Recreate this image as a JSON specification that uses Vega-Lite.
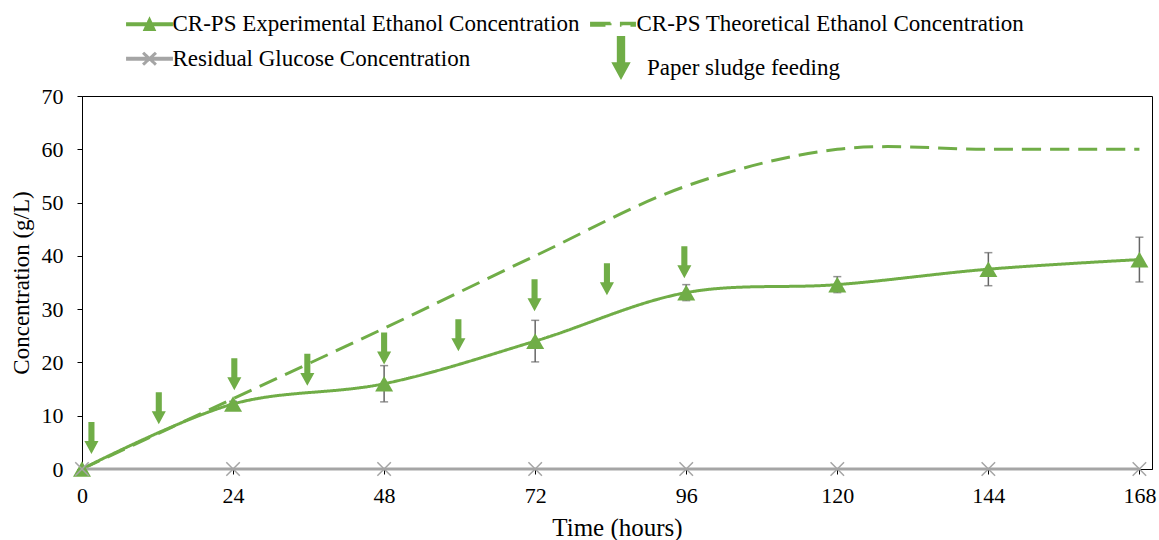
{
  "$schema": "https://vega.github.io/schema/vega-lite/v6.json",
  "autosize": {"type": "none"},
  "width": 1070,
  "height": 373,
  "padding": {"left": 82, "top": 96, "right": 7, "bottom": 71},
  "background": "white",
  "config": {
    "font": "Liberation Serif",
    "view": {"stroke": "black", "strokeWidth": 1},
    "axis": {
      "grid": false,
      "domainColor": "black",
      "tickColor": "black",
      "tickSize": 5,
      "labelColor": "black",
      "labelFont": "Liberation Serif",
      "labelFontSize": 22,
      "titleColor": "black",
      "titleFont": "Liberation Serif",
      "titleFontSize": 23,
      "titleFontWeight": "normal",
      "labelOverlap": false,
      "labelFlush": false
    },
    "legend": {
      "labelFont": "Liberation Serif",
      "labelFontSize": 23,
      "labelColor": "black",
      "labelLimit": 1000,
      "padding": 0
    }
  },
  "datasets": {
    "concentration": [
      {"series": "CR-PS Experimental Ethanol Concentration", "time": 0, "conc": 0, "sd": 0},
      {"series": "CR-PS Experimental Ethanol Concentration", "time": 24, "conc": 12.2, "sd": 0.5},
      {"series": "CR-PS Experimental Ethanol Concentration", "time": 48, "conc": 16.0, "sd": 3.4},
      {"series": "CR-PS Experimental Ethanol Concentration", "time": 72, "conc": 24.0, "sd": 3.9},
      {"series": "CR-PS Experimental Ethanol Concentration", "time": 96, "conc": 33.1, "sd": 1.5},
      {"series": "CR-PS Experimental Ethanol Concentration", "time": 120, "conc": 34.6, "sd": 1.5},
      {"series": "CR-PS Experimental Ethanol Concentration", "time": 144, "conc": 37.5, "sd": 3.1},
      {"series": "CR-PS Experimental Ethanol Concentration", "time": 168, "conc": 39.3, "sd": 4.2},
      {"series": "CR-PS Theoretical Ethanol Concentration", "time": 0, "conc": 0},
      {"series": "CR-PS Theoretical Ethanol Concentration", "time": 24, "conc": 13.2},
      {"series": "CR-PS Theoretical Ethanol Concentration", "time": 48, "conc": 26.4},
      {"series": "CR-PS Theoretical Ethanol Concentration", "time": 72, "conc": 40.0},
      {"series": "CR-PS Theoretical Ethanol Concentration", "time": 96, "conc": 53.1},
      {"series": "CR-PS Theoretical Ethanol Concentration", "time": 120, "conc": 60.0},
      {"series": "CR-PS Theoretical Ethanol Concentration", "time": 144, "conc": 60.0},
      {"series": "CR-PS Theoretical Ethanol Concentration", "time": 168, "conc": 60.0},
      {"series": "Residual Glucose Concentration", "time": 0, "conc": 0},
      {"series": "Residual Glucose Concentration", "time": 24, "conc": 0},
      {"series": "Residual Glucose Concentration", "time": 48, "conc": 0},
      {"series": "Residual Glucose Concentration", "time": 72, "conc": 0},
      {"series": "Residual Glucose Concentration", "time": 96, "conc": 0},
      {"series": "Residual Glucose Concentration", "time": 120, "conc": 0},
      {"series": "Residual Glucose Concentration", "time": 144, "conc": 0},
      {"series": "Residual Glucose Concentration", "time": 168, "conc": 0}
    ],
    "feeding": [
      {"event": "Paper sludge feeding", "time": 1.5, "conc": 2.8},
      {"event": "Paper sludge feeding", "time": 12.2, "conc": 8.4},
      {"event": "Paper sludge feeding", "time": 24.2, "conc": 14.8},
      {"event": "Paper sludge feeding", "time": 35.8, "conc": 15.6},
      {"event": "Paper sludge feeding", "time": 48.0, "conc": 19.6},
      {"event": "Paper sludge feeding", "time": 59.8, "conc": 22.1},
      {"event": "Paper sludge feeding", "time": 71.9, "conc": 29.6},
      {"event": "Paper sludge feeding", "time": 83.4, "conc": 32.6},
      {"event": "Paper sludge feeding", "time": 95.7, "conc": 35.8}
    ]
  },
  "layer": [
    {
      "data": {"name": "concentration"},
      "mark": {"type": "line", "interpolate": "catmull-rom", "strokeCap": "butt"},
      "encoding": {
        "x": {
          "field": "time", "type": "quantitative", "title": "Time (hours)",
          "scale": {"domain": [0, 170], "nice": false, "zero": false},
          "axis": {
            "values": [0, 24, 48, 72, 96, 120, 144, 168],
            "labelFont": "Liberation Serif", "labelFontSize": 22,
            "titleFont": "Liberation Serif", "titleFontSize": 25,
            "labelPadding": 11, "titlePadding": 9
          }
        },
        "y": {
          "field": "conc", "type": "quantitative", "title": "Concentration (g/L)",
          "scale": {"domain": [0, 70], "nice": false},
          "axis": {
            "values": [0, 10, 20, 30, 40, 50, 60, 70],
            "labelFont": "Liberation Serif", "labelFontSize": 22,
            "titleFont": "Liberation Serif", "titleFontSize": 23,
            "labelPadding": 14, "titlePadding": 8
          }
        },
        "color": {
          "field": "series", "type": "nominal",
          "scale": {
            "domain": ["CR-PS Experimental Ethanol Concentration", "CR-PS Theoretical Ethanol Concentration", "Residual Glucose Concentration"],
            "range": ["#70AD47", "#70AD47", "#A5A5A5"]
          },
          "legend": {
            "title": null,
            "orient": "none",
            "direction": "horizontal",
            "legendX": 49.5,
            "legendY": -89.8,
            "columns": 2,
            "symbolSize": 1089,
            "labelFont": "Liberation Serif",
            "labelFontSize": 23,
            "labelColor": "black",
            "labelLimit": 1000,
            "labelOffset": 5,
            "rowPadding": 4.5,
            "columnPadding": 6,
            "encode": {
              "symbols": {
                "update": {
                  "shape": {"signal": "datum.value === 'CR-PS Experimental Ethanol Concentration' ? 'M-1.33,-0.03L1.33,-0.03L1.33,0.03L-1.33,0.03ZM0,-0.27L0.27,0.32L-0.27,0.32Z' : datum.value === 'CR-PS Theoretical Ethanol Concentration' ? 'M-1.33,-0.06L-0.12,-0.06L-0.12,0.06L-1.33,0.06ZM0.48,-0.06L1.27,-0.06L1.27,0.06L0.48,0.06Z' : 'M-1.33,-0.03L1.33,-0.03L1.33,0.03L-1.33,0.03ZM-0.39,-0.36L0.39,0.36M-0.39,0.36L0.39,-0.36'"},
                  "fill": {"signal": "datum.value === 'Residual Glucose Concentration' ? '#A5A5A5' : '#70AD47'"},
                  "stroke": {"signal": "datum.value === 'Residual Glucose Concentration' ? '#A5A5A5' : '#70AD47'"},
                  "strokeWidth": {"value": 1},
                  "strokeDash": {"value": [1, 0]},
                  "size": {"value": 1089},
                  "opacity": {"value": 1}
                }
              }
            }
          }
        },
        "strokeDash": {
          "field": "series", "type": "nominal", "legend": null,
          "scale": {
            "domain": ["CR-PS Experimental Ethanol Concentration", "CR-PS Theoretical Ethanol Concentration", "Residual Glucose Concentration"],
            "range": [[1, 0], [19, 9], [1, 0]]
          }
        },
        "strokeWidth": {
          "field": "series", "type": "nominal", "legend": null,
          "scale": {
            "domain": ["CR-PS Experimental Ethanol Concentration", "CR-PS Theoretical Ethanol Concentration", "Residual Glucose Concentration"],
            "range": [3, 3, 2.5]
          }
        }
      }
    },
    {
      "data": {"name": "concentration"},
      "transform": [{"filter": "datum.series === 'CR-PS Experimental Ethanol Concentration'"}],
      "mark": {"type": "errorbar", "color": "#666666", "thickness": 1.5, "ticks": {"size": 8, "color": "#666666", "thickness": 1.5}},
      "encoding": {
        "x": {"field": "time", "type": "quantitative", "title": "Time (hours)"},
        "y": {"field": "conc", "type": "quantitative", "title": "Concentration (g/L)"},
        "yError": {"field": "sd"}
      }
    },
    {
      "data": {"name": "concentration"},
      "transform": [{"filter": "datum.series === 'CR-PS Experimental Ethanol Concentration'"}],
      "mark": {"type": "point", "shape": "triangle-up", "filled": true, "color": "#70AD47", "opacity": 1, "size": 324},
      "encoding": {
        "x": {"field": "time", "type": "quantitative", "title": "Time (hours)"},
        "y": {"field": "conc", "type": "quantitative", "title": "Concentration (g/L)"}
      }
    },
    {
      "data": {"name": "concentration"},
      "transform": [{"filter": "datum.series === 'Residual Glucose Concentration'"}],
      "mark": {"type": "point", "shape": "M-1,-1L1,1M-1,1L1,-1", "filled": false, "stroke": "#A5A5A5", "strokeWidth": 1.5, "opacity": 1, "size": 182},
      "encoding": {
        "x": {"field": "time", "type": "quantitative", "title": "Time (hours)"},
        "y": {"field": "conc", "type": "quantitative", "title": "Concentration (g/L)"}
      }
    },
    {
      "data": {"name": "feeding"},
      "mark": {"type": "point", "filled": true, "color": "#70AD47", "opacity": 1, "size": 1024, "strokeWidth": 0},
      "encoding": {
        "x": {"field": "time", "type": "quantitative", "title": "Time (hours)"},
        "y": {"field": "conc", "type": "quantitative", "title": "Concentration (g/L)"},
        "shape": {
          "field": "event", "type": "nominal",
          "scale": {"range": ["M-0.19,-2L0.19,-2L0.19,-0.81L0.44,-0.81L0,0L-0.44,-0.81L-0.19,-0.81Z"]},
          "legend": {
            "title": null,
            "orient": "none",
            "legendX": 516,
            "legendY": -39,
            "symbolSize": 1936,
            "labelFont": "Liberation Serif",
            "labelFontSize": 23,
            "labelColor": "black",
            "labelLimit": 1000,
            "labelOffset": 3,
            "labelBaseline": "bottom",
            "encode": {
              "symbols": {
                "update": {
                  "shape": {"value": "M-0.18,-1L0.18,-1L0.18,0.09L0.52,0.09L0,1L-0.52,0.09L-0.18,0.09Z"},
                  "fill": {"value": "#70AD47"},
                  "stroke": {"value": "transparent"},
                  "strokeWidth": {"value": 0},
                  "size": {"value": 1936},
                  "opacity": {"value": 1}
                }
              }
            }
          }
        }
      }
    }
  ]
}
